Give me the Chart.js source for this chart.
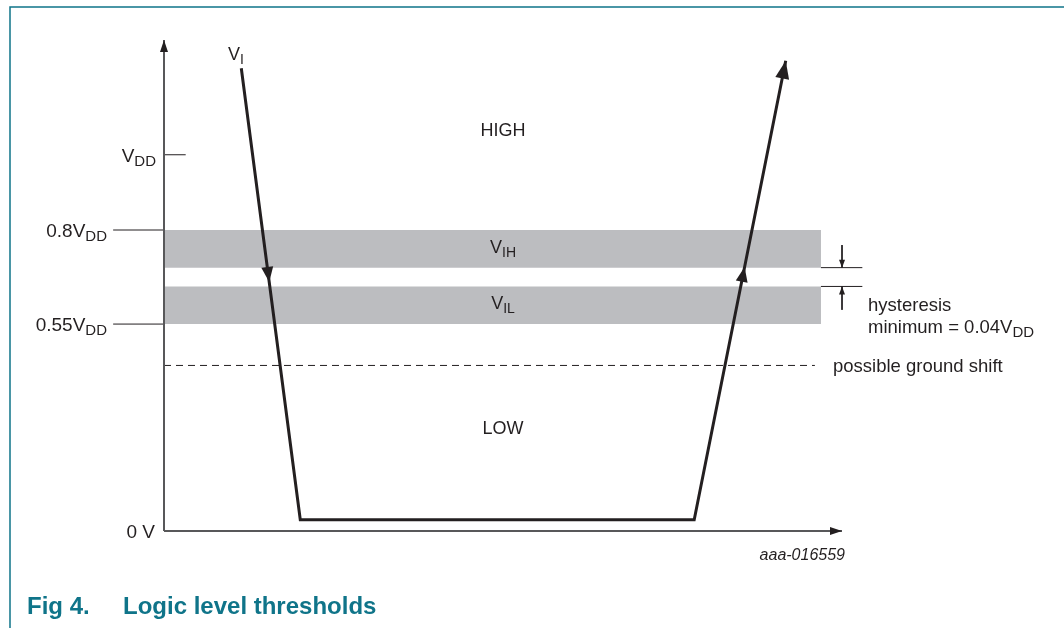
<!DOCTYPE html>
<html>
<head>
<meta charset="utf-8">
<script src="https://cdn.jsdelivr.net/npm/chart.js@4.4.0/dist/chart.umd.min.js"></script>
<style>
  html, body { margin: 0; padding: 0; background: #fff; }
  #wrap { position: relative; width: 1064px; height: 628px; }
</style>
</head>
<body>
<div id="wrap"><canvas id="thresholdChart"></canvas></div>
<script>
// Levels are in units of VDD, time is arbitrary (0..100 along the x axis)
const waveTime = [11.4, 20.1, 78.2, 91.7];
const waveLevel = [1.23, 0.03, 0.03, 1.25];
const vihBand = [0.70, 0.80];
const vilBand = [0.55, 0.65];
const groundShift = 0.44;
const bandEndTime = 96.9;
const tickValues = [0, 0.55, 0.8, 1.0];
const tickMain = ['0 V', '0.55V', '0.8V', 'V'];
const tickSub = ['', 'DD', 'DD', 'DD'];

const INK = '#231f20';
const AXIS = '#58585a';
const BAND = '#bcbdc0';
const TEAL = '#0f7489';
const FONT = '"Liberation Sans", Arial, sans-serif';

function seg(x0, y0, x1, y1) {
    return [{ x: x0, y: y0 }, { x: x1, y: y1 }];
}

function lineSet(data, color, width, extra) {
    return Object.assign({
        data: data,
        showLine: true,
        borderColor: color,
        borderWidth: width,
        pointRadius: 0,
        fill: false,
        clip: false,
        tension: 0
    }, extra || {});
}

const wave = waveTime.map((t, i) => ({ x: t, y: waveLevel[i] }));

// draw an arrow head with its tip at (tx,ty), pointing away from (fx,fy)
function head(ctx, tx, ty, fx, fy, len, half) {
    const a = Math.atan2(ty - fy, tx - fx);
    ctx.save();
    ctx.translate(tx, ty);
    ctx.rotate(a);
    ctx.beginPath();
    ctx.moveTo(0, 0);
    ctx.lineTo(-len, -half);
    ctx.lineTo(-len, half);
    ctx.closePath();
    ctx.fill();
    ctx.restore();
}

function subText(ctx, main, sub, x, y, align, size) {
    const subSize = Math.round(size * 0.8);
    ctx.font = size + 'px ' + FONT;
    const w1 = ctx.measureText(main).width;
    ctx.font = subSize + 'px ' + FONT;
    const w2 = sub ? ctx.measureText(sub).width : 0;
    let left = x;
    if (align === 'right') left = x - w1 - w2;
    if (align === 'center') left = x - (w1 + w2) / 2;
    ctx.textAlign = 'left';
    ctx.textBaseline = 'alphabetic';
    ctx.font = size + 'px ' + FONT;
    ctx.fillText(main, left, y);
    if (sub) {
        ctx.font = subSize + 'px ' + FONT;
        ctx.fillText(sub, left + w1, y + 4);
    }
}

const decorations = {
    id: 'decorations',
    afterDatasetsDraw(chart) {
        const ctx = chart.ctx;
        const xs = chart.scales.x, ys = chart.scales.y;
        const px = v => xs.getPixelForValue(v);
        const py = v => ys.getPixelForValue(v);

        ctx.save();
        // frame
        ctx.strokeStyle = TEAL;
        ctx.lineWidth = 1.5;
        ctx.beginPath();
        ctx.moveTo(10, 628);
        ctx.lineTo(10, 7);
        ctx.lineTo(1064, 7);
        ctx.stroke();

        // axis arrow heads
        ctx.fillStyle = '#231f20';
        head(ctx, px(0), py(ys.max), px(0), py(0), 12, 4);
        head(ctx, px(xs.max), py(0), px(0), py(0), 12, 4);

        // waveform arrow heads
        head(ctx, px(waveTime[3]), py(waveLevel[3]), px(waveTime[2]), py(waveLevel[2]), 18, 7);
        const dn = vilBand[1] + 0.012;
        const tDn = waveTime[0] + (waveLevel[0] - dn) / (waveLevel[0] - waveLevel[1]) * (waveTime[1] - waveTime[0]);
        head(ctx, px(tDn), py(dn), px(waveTime[0]), py(waveLevel[0]), 15, 6);
        const up = vihBand[0] + 0.002;
        const tUp = waveTime[2] + (up - waveLevel[2]) / (waveLevel[3] - waveLevel[2]) * (waveTime[3] - waveTime[2]);
        head(ctx, px(tUp), py(up), px(waveTime[2]), py(waveLevel[2]), 15, 6);

        // hysteresis arrows
        head(ctx, px(100), py(vihBand[0]), px(100), py(0.76), 8, 3);
        head(ctx, px(100), py(vilBand[1]), px(100), py(0.59), 8, 3);

        // texts
        ctx.fillStyle = INK;
        tickValues.forEach((v, i) => {
            const y = py(v) + 7;
            const x = v === 0 ? px(0) - 9 : (v === 1 ? px(0) - 8 : px(0) - 57);
            subText(ctx, tickMain[i], tickSub[i], x, y, 'right', 19);
        });
        subText(ctx, 'V', 'I', 228, 60, 'left', 18);
        ctx.font = '18px ' + FONT;
        ctx.textAlign = 'center';
        ctx.textBaseline = 'alphabetic';
        ctx.fillText('HIGH', px(50), 136);
        ctx.fillText('LOW', px(50), 434);
        subText(ctx, 'V', 'IH', px(50), py((vihBand[0] + vihBand[1]) / 2) + 4, 'center', 18);
        subText(ctx, 'V', 'IL', px(50), py((vilBand[0] + vilBand[1]) / 2) + 4, 'center', 18);
        ctx.font = '18.5px ' + FONT;
        ctx.textAlign = 'left';
        ctx.fillText('possible ground shift', 833, py(groundShift) + 7);
        ctx.fillText('hysteresis', 868, 311);
        subText(ctx, 'minimum = 0.04V', 'DD', 868, 333, 'left', 18.5);

        ctx.font = 'italic 16px ' + FONT;
        ctx.textAlign = 'right';
        ctx.fillText('aaa-016559', 845, 560);

        ctx.fillStyle = TEAL;
        ctx.font = 'bold 24px ' + FONT;
        ctx.textAlign = 'left';
        ctx.fillText('Fig 4.', 27, 614);
        ctx.fillText('Logic level thresholds', 123, 614);
        ctx.restore();
    }
};

new Chart(document.getElementById('thresholdChart'), {
    type: 'scatter',
    data: {
        datasets: [
            lineSet(wave, INK, 3, { order: 0, borderJoinStyle: 'miter' }),
            lineSet(seg(0, 0, 100, 0), AXIS, 2, { order: 1 }),
            lineSet(seg(0, 0, 0, 1.305), AXIS, 2, { order: 1 }),
            lineSet(seg(0, 1.0, 3.2, 1.0), INK, 1, { order: 1 }),
            lineSet(seg(-7.5, vihBand[1], 0, vihBand[1]), INK, 1, { order: 1 }),
            lineSet(seg(-7.5, vilBand[0], 0, vilBand[0]), INK, 1, { order: 1 }),
            lineSet(seg(0, groundShift, 96, groundShift), INK, 1, { order: 1, borderDash: [7, 5] }),
            lineSet(seg(bandEndTime, vihBand[0], 103, vihBand[0]), INK, 1, { order: 1 }),
            lineSet(seg(bandEndTime, vilBand[1], 103, vilBand[1]), INK, 1, { order: 1 }),
            lineSet(seg(100, 0.76, 100, vihBand[0]), INK, 1, { order: 1 }),
            lineSet([{ x: 100, y: vilBand[1] }, { x: 100, y: 0.588 }, { x: 103.4, y: 0.588 }], INK, 1, { order: 1 }),
            lineSet(seg(0, vihBand[1], bandEndTime, vihBand[1]), BAND, 0,
                { order: 5, fill: { value: vihBand[0] }, backgroundColor: BAND }),
            lineSet(seg(0, vilBand[1], bandEndTime, vilBand[1]), BAND, 0,
                { order: 5, fill: { value: vilBand[0] }, backgroundColor: BAND })
        ]
    },
    options: {
        responsive: true,
        maintainAspectRatio: false,
        animation: false,
        layout: { padding: { left: 164, right: 222, top: 40, bottom: 97 } },
        plugins: {
            legend: { display: false },
            tooltip: { enabled: false }
        },
        scales: {
            x: { type: 'linear', min: 0, max: 100, display: false },
            y: { type: 'linear', min: 0, max: 1.305, display: false }
        }
    },
    plugins: [decorations]
});
</script>
</body>
</html>
